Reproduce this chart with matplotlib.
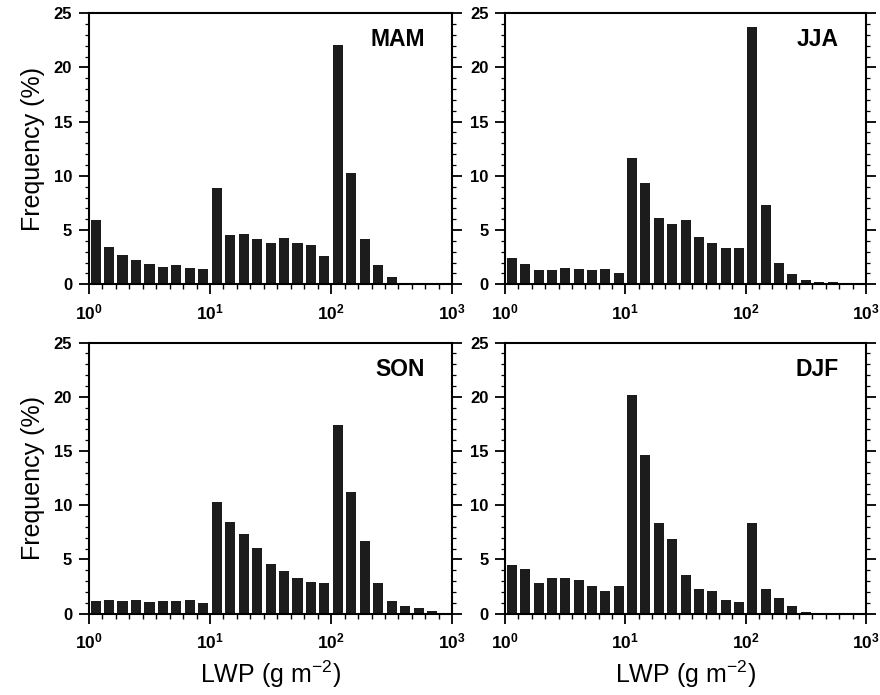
import numpy as np
import matplotlib
matplotlib.use("Agg")
import matplotlib.pyplot as plt
from matplotlib.ticker import FixedLocator, NullFormatter, MultipleLocator

plt.rcParams['font.family'] = ['Liberation Sans', 'DejaVu Sans']
plt.rcParams['mathtext.fontset'] = 'custom'
plt.rcParams['mathtext.rm'] = 'Liberation Sans'
plt.rcParams['mathtext.bf'] = 'Liberation Sans:bold'
plt.rcParams['mathtext.default'] = 'regular'

# LWP histogram, 9 log-spaced bins per decade from 1 to 1000 g m-2
seasons = ['MAM', 'JJA', 'SON', 'DJF']

freq_mam = [5.94, 3.45, 2.74, 2.22, 1.91, 1.63, 1.75, 1.48, 1.42,
            8.84, 4.50, 4.68, 4.19, 3.79, 4.31, 3.85, 3.66, 2.62,
            22.07, 10.25, 4.13, 1.79, 0.65, 0.0, 0.0, 0.0, 0.0]
freq_jja = [2.40, 1.90, 1.32, 1.32, 1.48, 1.39, 1.32, 1.39, 1.02,
            11.60, 9.36, 6.07, 5.57, 5.94, 4.37, 3.85, 3.36, 3.36,
            23.70, 7.33, 1.97, 0.90, 0.43, 0.25, 0.22, 0.0, 0.0]
freq_son = [1.17, 1.26, 1.17, 1.26, 1.05, 1.17, 1.17, 1.23, 0.99,
            10.34, 8.47, 7.33, 6.07, 4.59, 3.91, 3.33, 2.89, 2.83,
            17.43, 11.24, 6.74, 2.83, 1.17, 0.74, 0.49, 0.28, 0.0]
freq_djf = [4.46, 4.13, 2.83, 3.29, 3.33, 3.14, 2.59, 2.12, 2.59,
            20.20, 14.60, 8.40, 6.93, 3.57, 2.28, 2.12, 1.23, 1.05,
            8.34, 2.28, 1.48, 0.71, 0.15, 0.0, 0.0, 0.0, 0.0]

freqs = [freq_mam, freq_jja, freq_son, freq_djf]

n_per_decade = 9
bin_edges = 10 ** (np.arange(3 * n_per_decade + 1) / n_per_decade)
bar_left = 10 ** ((np.arange(3 * n_per_decade) + 0.125) / n_per_decade)
bar_right = 10 ** ((np.arange(3 * n_per_decade) + 0.875) / n_per_decade)

xtick_vals = [1, 10, 100, 1000]
xtick_labels = [r'$\mathbf{10^{%d}}$' % k for k in range(4)]

fig = plt.figure(figsize=(8.8, 6.95), dpi=100)

# panel boxes [left, bottom, width, height] in figure fraction
boxes = [
    [0.101, 0.591, 0.413, 0.390],
    [0.574, 0.591, 0.410, 0.390],
    [0.101, 0.117, 0.413, 0.390],
    [0.574, 0.117, 0.410, 0.390],
]

for i, (name, f, box) in enumerate(zip(seasons, freqs, boxes)):
    ax = fig.add_axes(box)
    ax.bar(bar_left, f, width=bar_right - bar_left, align='edge',
           color='#1c1c1c', edgecolor='none', zorder=2)
    ax.set_xscale('log')
    ax.set_xlim(1, 1000)
    ax.set_ylim(0, 25)

    ax.set_xticks(xtick_vals)
    ax.set_xticklabels(xtick_labels)
    ax.xaxis.set_minor_locator(FixedLocator(bin_edges))
    ax.xaxis.set_minor_formatter(NullFormatter())
    ax.yaxis.set_major_locator(MultipleLocator(5))
    ax.yaxis.set_minor_locator(MultipleLocator(1))

    ax.tick_params(axis='x', which='major', direction='out', length=7,
                   width=1.3, labelsize=12.5, pad=6, top=False)
    ax.tick_params(axis='x', which='minor', direction='out', length=3.5,
                   width=1.0, top=False)
    ax.tick_params(axis='y', which='major', direction='out', length=7,
                   width=1.3, labelsize=12, pad=5, left=True, right=True)
    ax.tick_params(axis='y', which='minor', direction='out', length=3,
                   width=0.9, left=True, right=True)
    for lab in ax.get_yticklabels():
        lab.set_fontweight('bold')

    for sp in ax.spines.values():
        sp.set_linewidth(1.5)

    ax.text(0.925, 0.945, name, transform=ax.transAxes, ha='right',
            va='top', fontsize=16.5, fontweight='bold')

    if i % 2 == 0:
        ax.set_ylabel('Frequency (%)', fontsize=18, labelpad=6)
    if i >= 2:
        ax.set_xlabel('LWP (g m$^{-2}$)', fontsize=18, labelpad=5)

fig.savefig('out.png', dpi=100)
